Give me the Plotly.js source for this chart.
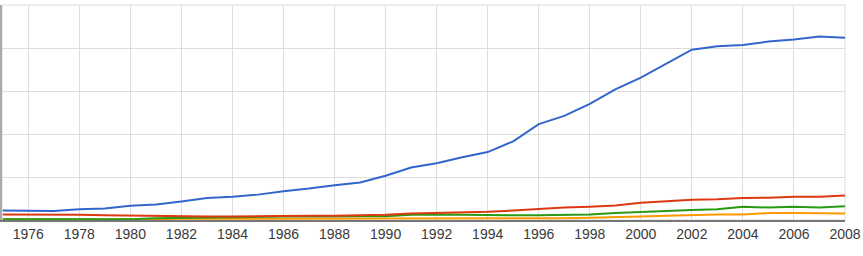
<!DOCTYPE html>
<html><head><meta charset="utf-8">
<script src="https://cdn.plot.ly/plotly-3.0.1.min.js"></script>
<style>html,body{margin:0;padding:0;background:#fff}#c{width:863px;height:256px}</style>
</head><body><div id="c"></div>
<script>
const years = [1975,1976,1977,1978,1979,1980,1981,1982,1983,1984,1985,1986,1987,1988,1989,1990,1991,1992,1993,1994,1995,1996,1997,1998,1999,2000,2001,2002,2003,2004,2005,2006,2007,2008];
const blue   = [0.22,0.22,0.21,0.25,0.27,0.33,0.36,0.43,0.51,0.54,0.59,0.67,0.73,0.81,0.87,1.03,1.22,1.32,1.46,1.58,1.83,2.23,2.42,2.70,3.04,3.31,3.64,3.96,4.04,4.07,4.15,4.20,4.27,4.24];
const red    = [0.13,0.13,0.12,0.12,0.11,0.10,0.09,0.08,0.08,0.08,0.09,0.09,0.10,0.10,0.11,0.12,0.15,0.16,0.17,0.19,0.22,0.26,0.29,0.31,0.34,0.40,0.43,0.47,0.48,0.51,0.52,0.54,0.54,0.57];
const green  = [0.02,0.02,0.02,0.02,0.02,0.02,0.04,0.05,0.06,0.07,0.07,0.08,0.08,0.09,0.09,0.09,0.12,0.13,0.12,0.11,0.11,0.11,0.12,0.13,0.16,0.19,0.21,0.23,0.25,0.31,0.29,0.31,0.29,0.32];
const orange = [0.01,0.01,0.01,0.01,0.01,0.01,0.02,0.03,0.03,0.03,0.03,0.03,0.03,0.03,0.03,0.04,0.04,0.04,0.04,0.04,0.04,0.04,0.04,0.05,0.06,0.08,0.10,0.12,0.13,0.13,0.16,0.16,0.16,0.15];
const tickYears = [1976,1978,1980,1982,1984,1986,1988,1990,1992,1994,1996,1998,2000,2002,2004,2006,2008];

function tr(y, c){ return {x: years, y: y, type:'scatter', mode:'lines', line:{color:c, width:2}, hoverinfo:'skip'}; }
const data = [tr(orange,'#ff9900'), tr(green,'#2a9a14'), tr(red,'#dc3912'), tr(blue,'#3366cc')];
const layout = {
  width:863, height:256,
  margin:{l:2, r:18, t:5, b:36},
  paper_bgcolor:'#fff', plot_bgcolor:'#fff',
  showlegend:false,
  xaxis:{range:[1974.97,2008], tickvals:tickYears, ticktext:tickYears.map(String),
    showgrid:true, gridcolor:'#dddddd', gridwidth:1, zeroline:false,
    showline:true, linecolor:'#777', linewidth:2, ticks:'',
    tickfont:{family:'Liberation Sans, Arial, sans-serif', size:14, color:'#3a3a3a'}},
  yaxis:{range:[0,5], dtick:1, showgrid:true, gridcolor:'#dddddd', gridwidth:1,
    zeroline:false, showticklabels:false, showline:true, linecolor:'#aaa', linewidth:2, ticks:''},
  shapes:[{type:'rect', xref:'paper', yref:'paper', x0:0, x1:1, y0:0, y1:1, line:{color:'#dddddd', width:1}, layer:'below'}]
};
Plotly.newPlot('c', data, layout, {displayModeBar:false, staticPlot:true});
</script></body></html>
